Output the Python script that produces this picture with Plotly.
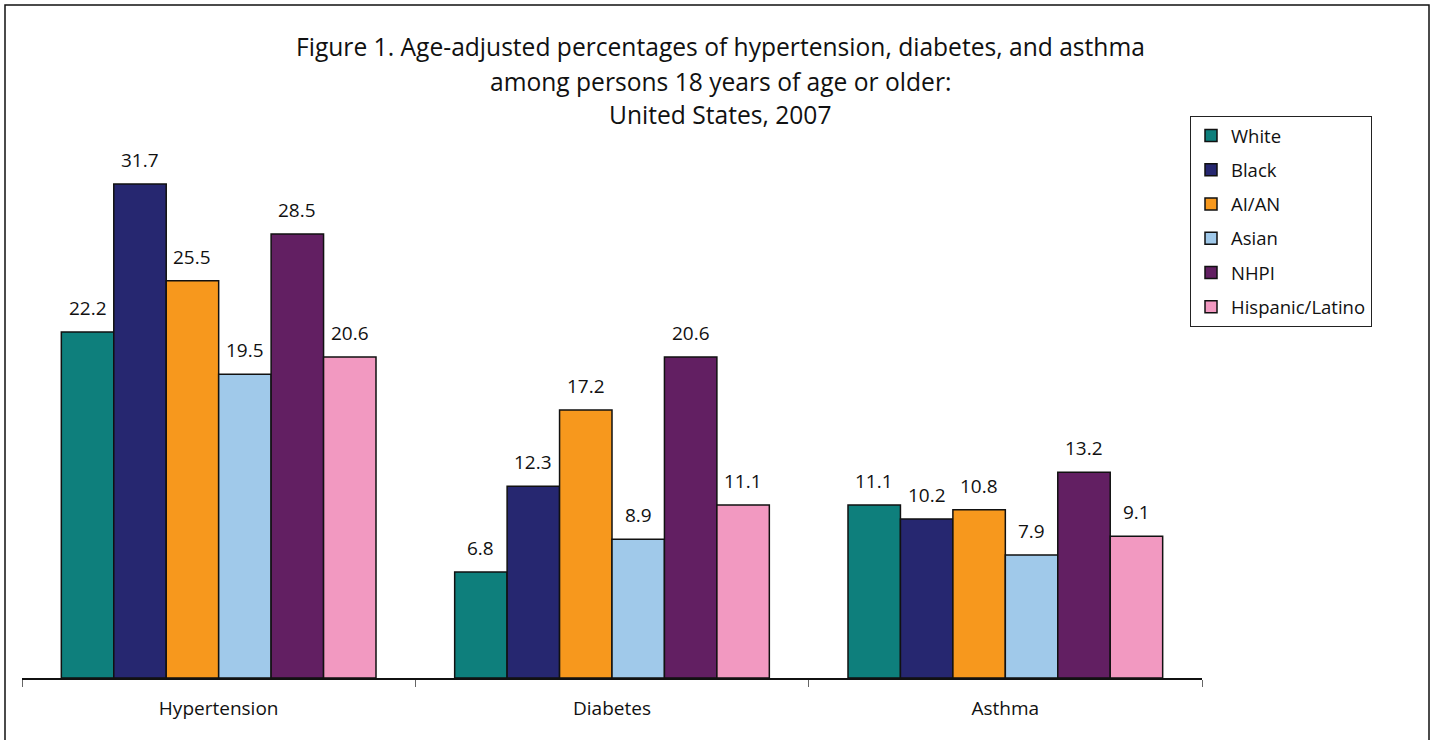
import plotly.graph_objects as go

# Age-adjusted percentages by condition and group
conditions = ["Hypertension", "Diabetes", "Asthma"]
groups = ["White", "Black", "AI/AN", "Asian", "NHPI", "Hispanic/Latino"]
white = [22.2, 6.8, 11.1]
black = [31.7, 12.3, 10.2]
aian = [25.5, 17.2, 10.8]
asian = [19.5, 8.9, 7.9]
nhpi = [28.5, 20.6, 13.2]
hispanic = [20.6, 11.1, 9.1]
series = [white, black, aian, asian, nhpi, hispanic]
colors = ["#0E7F7C", "#262770", "#F7981D", "#A0C9EA", "#621F62", "#F299C1"]

title_lines = [
    "Figure 1. Age-adjusted percentages of hypertension, diabetes, and asthma",
    "among persons 18 years of age or older:",
    "United States, 2007",
]

FONT = "Open Sans"
W, H = 1430, 740
ML, MR, MT, MB = 22, 228, 140, 62
plot_w = W - ML - MR
plot_h = H - MT - MB
BARGAP = 0.2

fig = go.Figure()
for name, vals, col in zip(groups, series, colors):
    fig.add_trace(go.Bar(
        name=name,
        x=conditions,
        y=vals,
        legendgroup=name,
        marker=dict(color=col, line=dict(color="#111111", width=1.5)),
        hovertemplate="%{x}<br>" + name + ": %{y:.1f}<extra></extra>",
    ))

# value labels above each bar, offset to the bar's slot within its group
slot_px = plot_w / len(conditions) * (1 - BARGAP) / len(groups)
for gi, vals in enumerate(series):
    offset = (gi - (len(groups) - 1) / 2) * slot_px
    for cat, v in zip(conditions, vals):
        fig.add_annotation(
            x=cat, y=v, xref="x", yref="y",
            text=f"{v:.1f}", showarrow=False,
            xanchor="center", yanchor="bottom",
            xshift=offset, yshift=9,
            font=dict(family=FONT, size=19, color="#111111"),
        )

# title lines, centred above the plot
for i, line in enumerate(title_lines):
    fig.add_annotation(
        text=line, xref="paper", yref="paper",
        x=(720 - ML) / plot_w, y=(H - MB - (47 + 34 * i)) / plot_h,
        xanchor="center", yanchor="middle", showarrow=False,
        font=dict(family=FONT, size=24.6, color="#111111"),
    )

# outer frame around the whole figure
fig.add_shape(
    type="rect", xref="paper", yref="paper",
    x0=(5 - ML) / plot_w, x1=(1429 - ML) / plot_w,
    y0=-0.3, y1=(H - MB - 5) / plot_h,
    line=dict(color="#111111", width=1.5), fillcolor="rgba(0,0,0,0)",
)

fig.update_layout(
    width=W, height=H,
    margin=dict(l=ML, r=MR, t=MT, b=MB),
    paper_bgcolor="white", plot_bgcolor="white",
    barmode="group", bargap=BARGAP, bargroupgap=0,
    showlegend=True,
    legend=dict(
        x=(1190 - ML) / plot_w, y=(H - MB - 116) / plot_h,
        xanchor="left", yanchor="top",
        bordercolor="#222222", borderwidth=1, bgcolor="white",
        font=dict(family=FONT, size=18.5, color="#111111"),
        tracegroupgap=7.2, traceorder="grouped",
        itemwidth=30,
    ),
    xaxis=dict(
        showline=True, linecolor="#111111", linewidth=1.5,
        ticks="outside", tickson="boundaries", ticklen=7, tickcolor="#666666",
        tickfont=dict(family=FONT, size=19, color="#111111"),
        ticklabelstandoff=12,
        showgrid=False, zeroline=False,
    ),
    yaxis=dict(
        range=[0, plot_h / 15.58], visible=False, showgrid=False, zeroline=False,
    ),
)

fig.write_html("out.html")
